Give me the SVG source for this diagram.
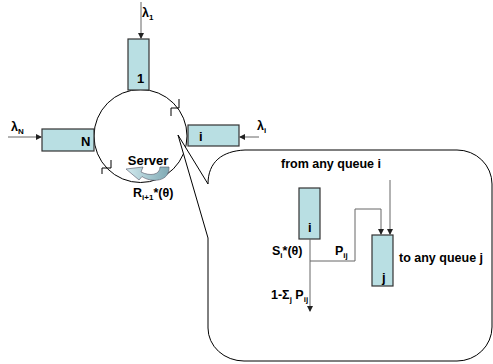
<svg xmlns="http://www.w3.org/2000/svg" width="493" height="364" viewBox="0 0 493 364">
<style>
  .q { fill: #b9dfe3; stroke: #333; stroke-width: 1.2; }
  .t { font-family: "Liberation Sans", Arial, sans-serif; font-weight: bold; fill: #000; }
  .lbl { font-size: 13px; }
  .sm { font-size: 12.5px; }
  .sub { font-size: 8px; }
  .arr { fill: none; stroke: #666; stroke-width: 1; marker-end: url(#ah); }
  .blk { fill: none; stroke: #000; stroke-width: 1; }
</style>
<defs>
  <marker id="ah" markerWidth="6" markerHeight="6" refX="5" refY="3" orient="auto" markerUnits="userSpaceOnUse">
    <path d="M0,0 L6,3 L0,6 Z" fill="#222"/>
  </marker>
  <linearGradient id="sg" x1="0" y1="0" x2="1" y2="0">
    <stop offset="0" stop-color="#d2eaee"/>
    <stop offset="1" stop-color="#7fa9b4"/>
  </linearGradient>
</defs>
<rect width="493" height="364" fill="#fff"/>

<g id="ring">
  <circle cx="140.5" cy="136" r="46.5" class="blk"/>
  <polyline points="179,99 179,108 171,108 171,116" class="blk"/>
  <polyline points="111,160 111,168 102,168 102,174" class="blk"/>
</g>

<g id="server">
  <path d="M169,167 C170,182 151,183 142,176.5 L139,180 L126,169 L143,167 L141,172 C150,176.5 160,175 160,167 Z" fill="url(#sg)" stroke="#556" stroke-width="0.6"/>
  <text x="148" y="165" class="t lbl" text-anchor="middle">Server</text>
  <text x="133" y="197" class="t sm">R<tspan class="sub" dy="3">i+1</tspan><tspan dy="-3">*(θ)</tspan></text>
</g>

<g id="queue1">
  <rect x="128" y="39" width="21" height="51" class="q"/>
  <text x="137" y="83" class="t lbl">1</text>
</g>
<g id="queueN">
  <rect x="42" y="129" width="52" height="22" class="q"/>
  <text x="81" y="146" class="t lbl">N</text>
</g>
<g id="queuei">
  <rect x="188" y="125" width="51" height="21" class="q"/>
  <text x="199" y="141" class="t lbl">i</text>
</g>

<g id="callout">
  <path d="M208,184 C208,162 222,151 245,150 L457,150 A35,34 0 0 1 492,184 L492,327 A35,34 0 0 1 457,361 L244,361 A36,33 0 0 1 208,328 L208,238 L178,135 Z" fill="#fff" stroke="#000" stroke-width="1"/>
</g>

<g id="queuei2">
  <rect x="299" y="188" width="21" height="51" class="q"/>
  <text x="308" y="232" class="t lbl">i</text>
</g>
<g id="queuej">
  <rect x="372" y="235" width="21" height="51" class="q"/>
  <text x="382" y="282" class="t lbl">j</text>
</g>

<g id="connectors">
  <line x1="141" y1="2" x2="141" y2="38" class="arr"/>
  <line x1="8" y1="137" x2="41" y2="137" class="arr"/>
  <line x1="259" y1="137" x2="240" y2="137" class="arr"/>
  <line x1="310" y1="239" x2="310" y2="311" class="arr" stroke="#444"/>
  <polyline points="310,261 355,261 355,209 381,209 381,234" class="arr" stroke="#444"/>
  <line x1="390" y1="180" x2="390" y2="234" class="arr" stroke="#888"/>
</g>

<g id="labels">
  <text x="142" y="17" class="t sm">λ<tspan class="sub" dy="3">1</tspan></text>
  <text x="11" y="131" class="t sm">λ<tspan class="sub" dy="3">N</tspan></text>
  <text x="257" y="130" class="t sm">λ<tspan class="sub" dy="3">i</tspan></text>
  <text x="281" y="168" class="t sm">from any queue i</text>
  <text x="272" y="255" class="t sm">S<tspan class="sub" dy="3">i</tspan><tspan dy="-3">*(θ)</tspan></text>
  <text x="335" y="255" class="t sm">P<tspan class="sub" dy="3">ij</tspan></text>
  <text x="399" y="262" class="t sm">to any queue j</text>
  <text x="271" y="299" class="t sm">1-Σ<tspan class="sub" dy="3">j</tspan><tspan dy="-3"> P</tspan><tspan class="sub" dy="3">ij</tspan></text>
</g>
</svg>
